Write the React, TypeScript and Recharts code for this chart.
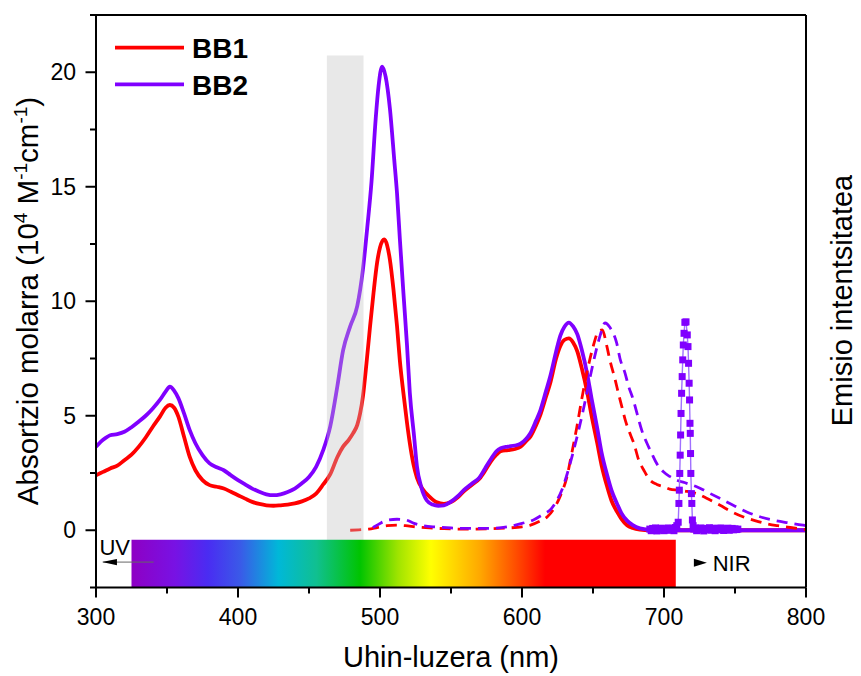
import React from 'react';
import {
  LineChart, Line, XAxis, YAxis, ReferenceArea, ReferenceLine, ReferenceDot, Legend,
} from 'recharts';

const FONT = "'Liberation Sans', Arial, Helvetica, sans-serif";
const RED = '#ff0000';
const PURPLE = '#8000ff';

// x: wavelength (nm), y: molar absorption (10^4 M^-1 cm^-1)
const bb1Absorption: [number, number][] = [
  [300, 2.4], [305, 2.55], [310, 2.7], [315, 2.82], [320, 3.06], [325, 3.3], [330, 3.64], [335, 4.05],
  [340, 4.52], [345, 4.96], [349, 5.35], [352, 5.47], [355, 5.35], [358, 4.96], [362, 4.08], [366, 3.2],
  [370, 2.62], [375, 2.19], [380, 1.97], [385, 1.9], [390, 1.82], [395, 1.68], [400, 1.53], [405, 1.38],
  [410, 1.24], [415, 1.15], [420, 1.09], [425, 1.07], [430, 1.09], [435, 1.12], [440, 1.17], [445, 1.26],
  [450, 1.39], [455, 1.6], [460, 2.0], [465, 2.45], [470, 3.2], [474, 3.65], [478, 3.95], [481, 4.23],
  [484, 4.6], [486, 5.1], [488, 5.85], [490.5, 7.3], [493, 8.9], [495.5, 10.4], [498, 11.7], [500, 12.35],
  [503, 12.7], [505, 12.45], [507, 11.8], [509.5, 10.5], [512, 8.9], [514, 7.4], [516.5, 5.98], [519, 4.7],
  [521, 3.8], [523.5, 2.9], [526, 2.3], [530, 1.8], [535, 1.46], [540, 1.22], [545, 1.15], [550, 1.23],
  [555, 1.45], [559, 1.7], [565, 2.0], [570, 2.25], [574, 2.6], [578, 3.0], [582, 3.3], [585, 3.45],
  [590, 3.5], [595, 3.55], [599, 3.65], [603, 3.9], [606, 4.1], [610, 4.6], [613, 5.05], [617, 5.85],
  [620, 6.45], [624, 7.5], [627, 8.05], [630, 8.32], [633, 8.38], [636, 8.2], [639, 7.8], [642, 7.1],
  [646, 6.0], [649, 5.0], [653, 3.8], [656, 2.85], [660, 1.9], [663, 1.3], [667, 0.8], [670, 0.5],
  [674, 0.22], [678, 0.1], [683, 0.03], [690, 0.0], [720, 0.0], [760, 0.0], [800, 0.0],
];

const bb2Absorption: [number, number][] = [
  [300, 3.65], [305, 3.95], [310, 4.15], [315, 4.2], [320, 4.3], [325, 4.5], [330, 4.74], [335, 5.0],
  [340, 5.32], [345, 5.69], [349, 6.05], [352, 6.27], [355, 6.1], [358, 5.77], [362, 5.1], [366, 4.37],
  [370, 3.8], [375, 3.28], [380, 2.92], [385, 2.75], [390, 2.62], [395, 2.4], [400, 2.19], [405, 2.0],
  [410, 1.82], [415, 1.68], [420, 1.57], [425, 1.53], [430, 1.57], [435, 1.67], [440, 1.82], [445, 2.05],
  [450, 2.33], [455, 2.77], [460, 3.5], [465, 4.55], [470, 6.3], [474, 7.85], [479, 8.9], [484, 9.8],
  [488, 11.4], [491, 13.2], [494, 15.2], [497, 18.0], [499, 19.4], [501.5, 20.25], [504, 19.8], [507, 18.4],
  [510, 16.2], [512, 14.7], [514, 12.7], [516.5, 10.35], [519, 8.1], [521, 6.0], [524, 4.1], [526, 2.8],
  [529, 1.9], [533, 1.3], [537, 1.12], [541, 1.07], [545, 1.09], [550, 1.25], [555, 1.5], [559, 1.75],
  [565, 2.05], [570, 2.3], [574, 2.7], [578, 3.1], [582, 3.45], [585, 3.58], [590, 3.65], [595, 3.7],
  [599, 3.78], [603, 4.0], [606, 4.25], [610, 4.8], [613, 5.25], [617, 6.1], [620, 6.75], [624, 7.8],
  [627, 8.5], [630, 8.9], [633, 9.07], [636, 8.9], [639, 8.55], [642, 7.9], [646, 6.8], [649, 5.75],
  [653, 4.45], [656, 3.4], [660, 2.4], [663, 1.75], [667, 1.15], [670, 0.75], [674, 0.42], [678, 0.22],
  [683, 0.08], [690, 0.02], [700, 0.0], [720, 0.0], [760, 0.0], [800, 0.0],
];

// normalised emission (drawn on the same scale)
const bb1Emission: [number, number][] = [
  [479, 0.0], [485, 0.02], [492, 0.05], [498, 0.12], [505, 0.2], [512, 0.22], [518, 0.2], [525, 0.15],
  [535, 0.1], [545, 0.07], [560, 0.05], [575, 0.06], [590, 0.1], [600, 0.15], [606, 0.22], [612, 0.38],
  [618, 0.6], [623, 1.0], [627, 1.5], [631.5, 2.3], [635, 3.35], [638.6, 4.5], [642, 5.7], [645.6, 6.85],
  [650, 8.0], [654, 8.7], [656.5, 8.75], [659.7, 8.05], [662, 7.4], [665.5, 6.6], [668, 5.95], [670.3, 5.4],
  [673, 4.75], [676.2, 4.2], [679, 3.75], [682, 3.1], [686, 2.6], [690, 2.2], [695, 2.0], [700, 1.9],
  [704, 1.8], [710, 1.75], [716, 1.7], [723, 1.6], [730, 1.4], [739.5, 1.09], [748, 0.8], [756, 0.58],
  [764, 0.42], [772, 0.29], [780, 0.2], [789, 0.12], [800, 0.03],
];

const bb2Emission: [number, number][] = [
  [495, 0.12], [500, 0.3], [506, 0.45], [512, 0.48], [518, 0.45], [524, 0.3], [530, 0.2], [540, 0.14],
  [550, 0.1], [560, 0.08], [575, 0.08], [590, 0.15], [600, 0.3], [608, 0.45], [615, 0.7], [620, 0.9],
  [624, 1.25], [628, 1.75], [632, 2.5], [636, 3.4], [640, 4.4], [644, 5.5], [648, 6.7], [652, 7.8],
  [655, 8.5], [658.5, 9.05], [662, 8.85], [666.7, 8.17], [669, 7.5], [672.6, 6.85], [675, 6.3], [678.4, 5.69],
  [681, 5.1], [684.3, 4.37], [688, 3.8], [691.4, 3.35], [695, 2.9], [699.6, 2.55], [704, 2.35], [709, 2.19],
  [716, 2.05], [723, 1.9], [732, 1.62], [741.8, 1.31], [750, 1.05], [758.3, 0.8], [767, 0.6], [777, 0.44],
  [788, 0.32], [798, 0.22], [800, 0.2],
];

// sharp excitation/scatter peak measured with markers
const bb2Scatter: [number, number][] = [
  [690, 0.05], [691, -0.02], [692, 0.08], [693, 0.03], [694, 0.1], [695, -0.03], [696, 0.06], [697, 0.0],
  [698, 0.09], [699, 0.04], [700, -0.02], [701, 0.07], [702, 0.02], [703, 0.1], [704, 0.0], [705, 0.05],
  [706, 0.08], [707, -0.02], [708, 0.12], [709, 0.2], [710, 0.35], [710.5, 1.17], [710.8, 1.75], [711.1, 2.48],
  [711.4, 3.28], [711.7, 4.16], [712.0, 5.1], [712.4, 5.98], [712.8, 6.71], [713.2, 7.44], [713.6, 8.09],
  [714.1, 8.6], [714.7, 9.08], [715.5, 9.1], [716.4, 8.53], [716.9, 8.02], [717.3, 7.29], [717.7, 6.42],
  [718.0, 5.69], [718.3, 4.67], [718.5, 4.23], [718.7, 3.35], [718.9, 2.48], [719.3, 1.6], [719.6, 1.17],
  [720.0, 0.45], [720.5, 0.2], [721, 0.05], [722, 0.1], [723, -0.02], [724, 0.07], [725, 0.02], [726, 0.1],
  [727, 0.04], [728, -0.03], [729, 0.08], [730, 0.03], [731, 0.06], [732, 0.11], [733, 0.0], [734, 0.05],
  [735, 0.09], [736, -0.02], [737, 0.04], [738, 0.08], [739, 0.02], [740, 0.1], [741, 0.03], [742, -0.01],
  [743, 0.07], [744, 0.04], [745, 0.09], [746, 0.0], [747, 0.05], [748, 0.08], [749, 0.02], [750, 0.06],
  [751, 0.03], [752, 0.05],
];

const xTicks = [300, 350, 400, 450, 500, 550, 600, 650, 700, 750, 800];
const yTicks = [-2.5, 0, 2.5, 5, 7.5, 10, 12.5, 15, 17.5, 20, 22.5];
const rightTicks = [0, 2.5, 5, 7.5, 10, 12.5, 15, 17.5, 20];

const excitationBand = { x1: 462.6, x2: 488.4, y1: -2.5, y2: 20.73 };
const spectrumBar = { x1: 325, x2: 708.3, y1: -2.5, y2: -0.41 };
const spectrumStops: [number, string][] = [
  [0, '#8e00c4'], [0.08, '#7812e4'], [0.14, '#4a2cf2'], [0.2, '#3a5ae8'], [0.27, '#00b8d8'],
  [0.34, '#10c090'], [0.42, '#00c400'], [0.49, '#a0e400'], [0.55, '#ffff00'], [0.64, '#ffa800'],
  [0.71, '#ff4800'], [0.76, '#ff0000'], [1, '#ff0000'],
];

const toPts = (arr: [number, number][]) => arr.map(([x, y]) => ({ x, y }));

const XTick = (props: any) => {
  const { x, y, payload } = props;
  const v = payload.value;
  const major = v % 100 === 0;
  return (
    <g>
      <line x1={x} x2={x} y1={y} y2={y + (major ? 10 : 6)} stroke="#000" strokeWidth={2} />
      {major && (
        <text x={x} y={y + 37.5} textAnchor="middle" fontSize={23} fontFamily={FONT} fill="#000">{v}</text>
      )}
    </g>
  );
};

const YTick = (props: any) => {
  const { x, y, payload } = props;
  const v = payload.value;
  const major = v % 5 === 0;
  return (
    <g>
      <line x1={x} x2={x - (major ? 10.5 : 6)} y1={y} y2={y} stroke="#000" strokeWidth={2} />
      {major && (
        <text x={x - 20} y={y + 8.2} textAnchor="end" fontSize={23} fontFamily={FONT} fill="#000">{v}</text>
      )}
    </g>
  );
};

const LegendContent = (props: any) => {
  const items = (props.payload || []).filter((p: any) => p.type !== 'none');
  return (
    <svg width={300} height={110} style={{ display: 'block' }}>
      {items.map((it: any, i: number) => (
        <g key={it.value}>
          <line x1={115} x2={184} y1={47.7 + i * 36.6} y2={47.7 + i * 36.6} stroke={it.color} strokeWidth={3.8} />
          <text x={192} y={58.3 + i * 36.7} fontSize={28} fontWeight="bold" fontFamily={FONT} fill="#000">{it.value}</text>
        </g>
      ))}
    </svg>
  );
};

const squareDot = (p: any) => (
  <rect key={`sq-${p.index}`} x={p.cx - 3.5} y={p.cy - 3.5} width={7} height={7} fill={PURPLE} />
);

const leftArrowHead = (p: any) => (
  <path d={`M${p.cx},${p.cy} L${p.cx + 15},${p.cy - 3.2} L${p.cx + 15},${p.cy + 3.2} Z`} fill="#000" />
);
const rightArrowHead = (p: any) => (
  <path d={`M${p.cx},${p.cy} L${p.cx - 13},${p.cy - 4} L${p.cx - 13},${p.cy + 4} Z`} fill="#000" />
);
const textAt = (label: string) => (p: any) => (
  <text x={p.cx} y={p.cy} fontSize={22} fontFamily={FONT} fill="#000">{label}</text>
);

export default function App() {
  return (
    <div style={{ position: 'absolute', left: 0, top: 0, width: 861, height: 676, background: '#fff' }}>
      <LineChart width={861} height={676} margin={{ top: 15, right: 15, bottom: 38.5, left: 36 }}>
        <defs>
          <linearGradient id="specGrad" x1="0" y1="0" x2="1" y2="0">
            {spectrumStops.map(([o, c]) => (
              <stop key={o} offset={o} stopColor={c} />
            ))}
          </linearGradient>
        </defs>
        <XAxis
          type="number" dataKey="x" domain={[300, 800]} ticks={xTicks} interval={0}
          tickSize={0} tickMargin={0} tickLine={false} tick={<XTick />}
          axisLine={{ stroke: '#000', strokeWidth: 2 }} height={50} allowDataOverflow
        />
        <YAxis
          type="number" domain={[-2.5, 22.5]} ticks={yTicks} interval={0}
          tickSize={0} tickMargin={0} tickLine={false} tick={<YTick />}
          axisLine={{ stroke: '#000', strokeWidth: 2 }} width={60} allowDataOverflow
        />
        <YAxis
          yAxisId="r" orientation="right" type="number" domain={[-2.5, 22.5]} ticks={rightTicks} interval={0}
          tick={false} tickSize={10.7} tickLine={{ stroke: '#000', strokeWidth: 2 }}
          axisLine={{ stroke: '#000', strokeWidth: 2 }} width={40} allowDataOverflow
        />
        <ReferenceLine y={22.5} stroke="#000" strokeWidth={2} />

        <Line data={toPts(bb1Absorption)} dataKey="y" name="BB1" type="monotone" stroke={RED}
          strokeWidth={3.8} dot={false} isAnimationActive={false} />
        <Line data={toPts(bb2Absorption)} dataKey="y" name="BB2" type="monotone" stroke={PURPLE}
          strokeWidth={3.8} dot={false} isAnimationActive={false} />
        <Line data={toPts(bb1Emission)} dataKey="y" name="BB1 emisioa" type="monotone" stroke={RED}
          strokeWidth={2.8} strokeDasharray="11 7" dot={false} legendType="none" isAnimationActive={false} />
        <Line data={toPts(bb2Emission)} dataKey="y" name="BB2 emisioa" type="monotone" stroke={PURPLE}
          strokeWidth={2.8} strokeDasharray="11 7" dot={false} legendType="none" isAnimationActive={false} />
        <Line data={toPts(bb2Scatter)} dataKey="y" name="BB2 sakabanatzea" type="linear" stroke="#a070ff"
          strokeWidth={1.4} dot={squareDot} legendType="none" isAnimationActive={false} />

        <ReferenceArea {...excitationBand} fill="#c0c0c0" fillOpacity={0.36} stroke="none" zIndex={450} ifOverflow="visible" />
        <ReferenceArea {...spectrumBar} fill="url(#specGrad)" fillOpacity={1} stroke="none" zIndex={460} ifOverflow="visible" />

        <ReferenceLine segment={[{ x: 305, y: -1.39 }, { x: 340.6, y: -1.39 }]} stroke="#666" strokeWidth={1} zIndex={700} />
        <ReferenceDot x={304.2} y={-1.39} r={0} shape={leftArrowHead} zIndex={700} />
        <ReferenceDot x={302.4} y={-1.08} r={0} shape={textAt('UV')} zIndex={700} />
        <ReferenceDot x={730.2} y={-1.42} r={0} shape={rightArrowHead} zIndex={700} />
        <ReferenceDot x={734.3} y={-1.77} r={0} shape={textAt('NIR')} zIndex={700} />

        <Legend verticalAlign="middle" align="center" layout="horizontal" content={<LegendContent />}
          wrapperStyle={{ position: 'absolute', left: 0, top: 0, width: 300, height: 110 }} />

        <text x={451} y={667} textAnchor="middle" fontSize={29} fontFamily={FONT} fill="#000">Uhin-luzera (nm)</text>
        <text transform="rotate(-90)" x={-301} y={38} textAnchor="middle" fontSize={29.5} fontFamily={FONT} fill="#000">
          Absortzio molarra (10<tspan dy={-11} fontSize={19}>4</tspan>
          <tspan dy={11}> M</tspan><tspan dy={-11} fontSize={19}>-1</tspan>
          <tspan dy={11}>cm</tspan><tspan dy={-11} fontSize={19}>-1</tspan><tspan dy={11}>)</tspan>
        </text>
        <text transform="rotate(-90)" x={-300.5} y={852} textAnchor="middle" fontSize={29} fontFamily={FONT} fill="#000">
          Emisio intentsitatea
        </text>
      </LineChart>
    </div>
  );
}
